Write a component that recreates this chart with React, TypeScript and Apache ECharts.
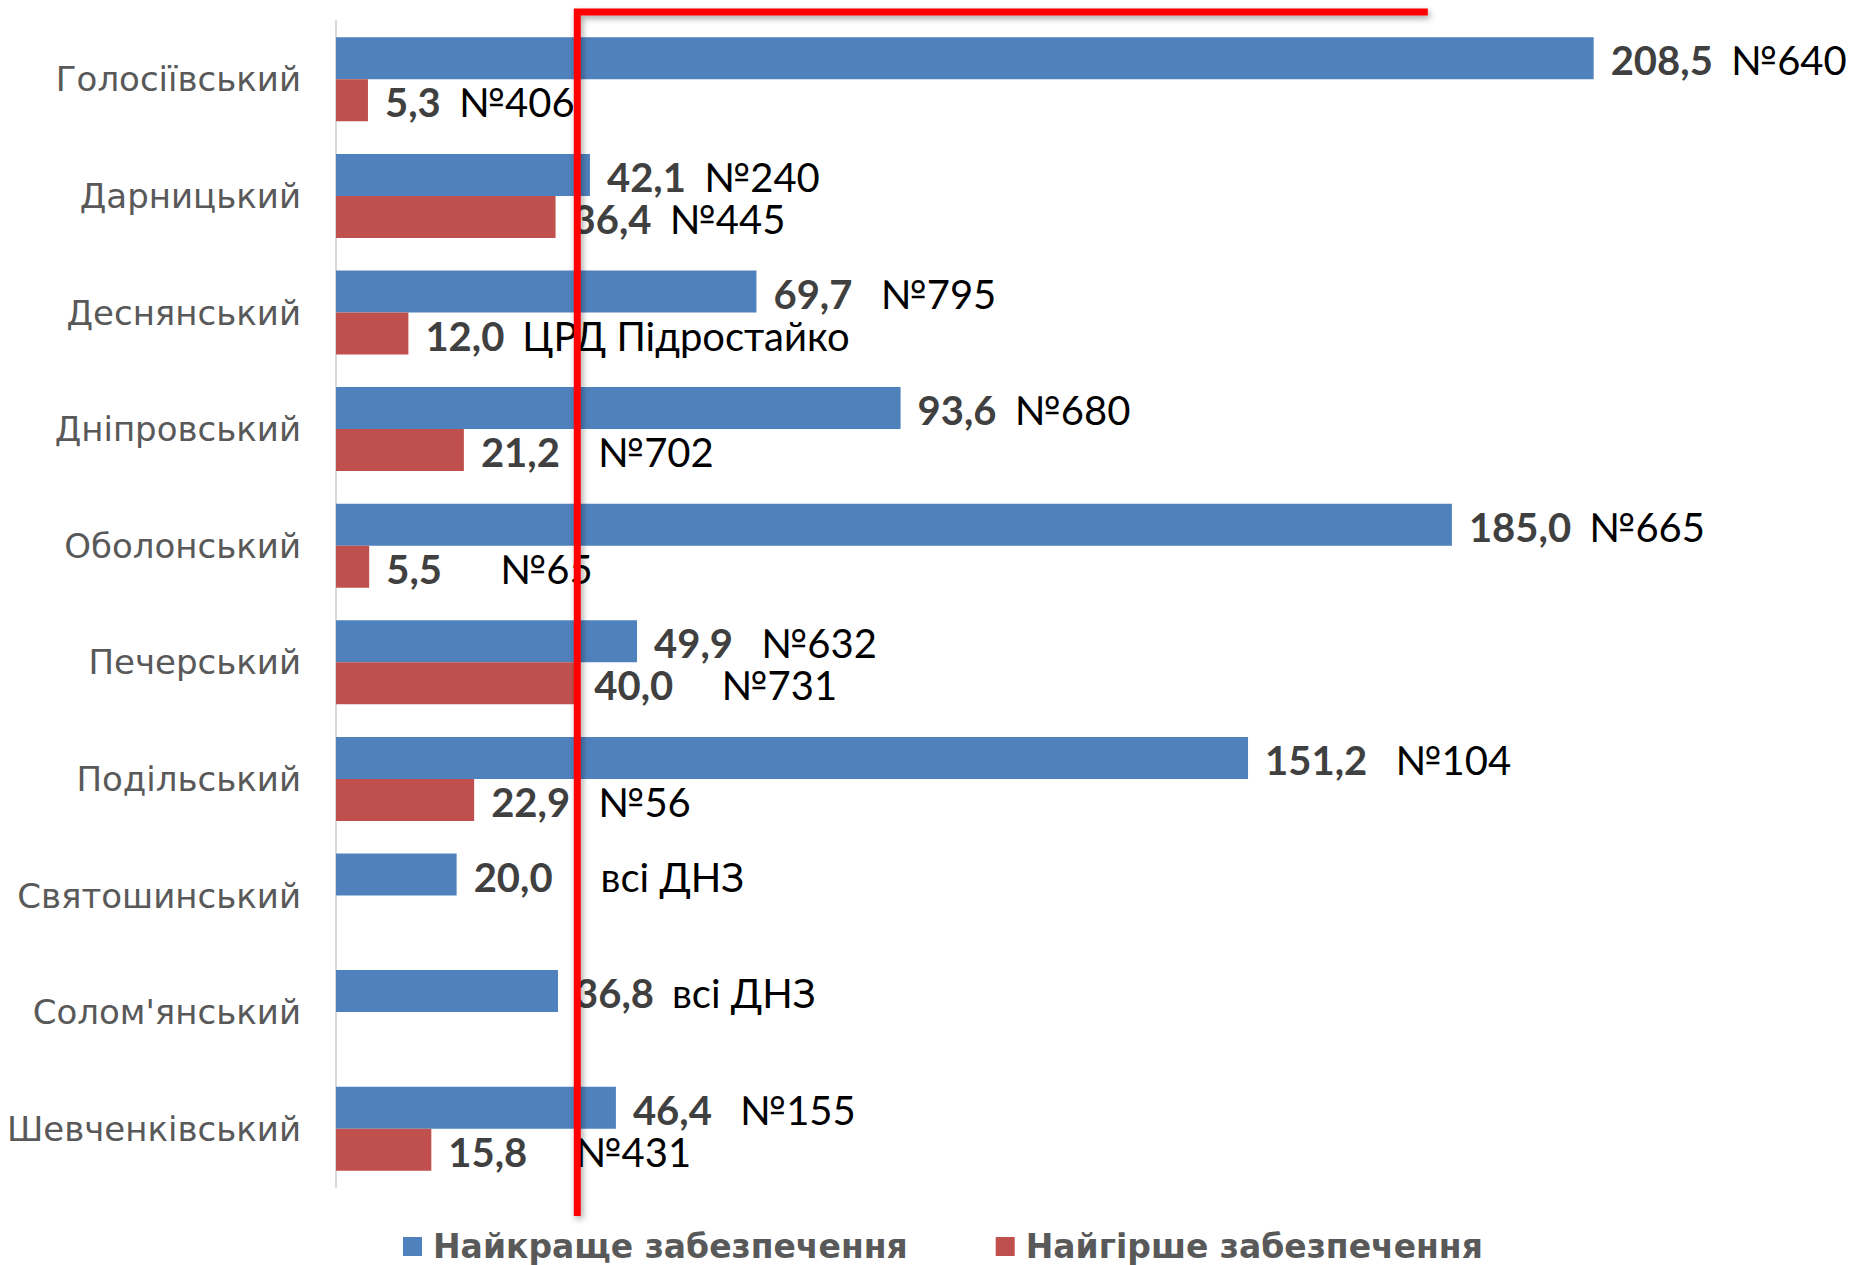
import React, { useEffect, useRef } from "react";
import * as echarts from "echarts";

const categories = [
  "Голосіївський",
  "Дарницький",
  "Деснянський",
  "Дніпровський",
  "Оболонський",
  "Печерський",
  "Подільський",
  "Святошинський",
  "Солом'янський",
  "Шевченківський",
];
const bestValues = [208.5, 42.1, 69.7, 93.6, 185.0, 49.9, 151.2, 20.0, 36.8, 46.4];
const bestNames = ["№640", "№240", " №795", "№680", "№665", " №632", " №104", "   всі ДНЗ", "всі ДНЗ", " №155"];
const worstValues = [5.3, 36.4, 12.0, 21.2, 5.5, 40.0, 22.9, null, null, 15.8];
const worstNames = ["№406", "№445", "ЦРД Підростайко", "  №702", "    №65", "   №731", " №56", "", "", "   №431"];
const seriesNames = ["Найкраще забезпечення", "Найгірше забезпечення"];
const normValue = 40;
const normLineEnd = 181;

const FONT = "Lato, 'DejaVu Sans', sans-serif";
const CAT_FONT = "'DejaVu Sans', sans-serif";

const fmt = (v: number) => v.toFixed(1).replace(".", ",");

const richStyles: any = {
  v: { fontFamily: FONT, fontSize: 40, lineHeight: 30, fontWeight: "bold", color: "#404040" },
};
for (let k = 0; k <= 4; k++) {
  richStyles["n" + k] = {
    fontFamily: FONT,
    fontSize: 40,
    lineHeight: 30,
    color: "#000000",
    padding: [0, 0, 0, 18 + k * 10],
  };
}

const makeFormatter = (names: string[]) => (p: any) => {
  if (p.value == null) return "";
  const raw = names[p.dataIndex] || "";
  const m = raw.match(/^ */);
  const k = m ? m[0].length : 0;
  const txt = raw.trim();
  return `{v|${fmt(p.value)}}{n${k}|${txt}}`;
};

export default function App() {
  const ref = useRef<HTMLDivElement>(null);
  useEffect(() => {
    if (!ref.current) return;
    const chart = echarts.init(ref.current, undefined, { renderer: "svg" });
    chart.setOption({
      animation: false,
      backgroundColor: "#ffffff",
      grid: {
        left: 336,
        top: 21,
        width: 1508,
        height: 1166,
        containLabel: false,
        outerBoundsMode: "none",
      },
      xAxis: {
        type: "value",
        min: 0,
        max: 250,
        show: false,
      },
      yAxis: {
        type: "category",
        data: categories,
        inverse: true,
        axisLine: { show: true, lineStyle: { color: "#d9d9d9", width: 2 } },
        axisTick: { show: false },
        axisLabel: {
          margin: 35,
          fontFamily: CAT_FONT,
          fontSize: 34,
          color: "#595959",
        },
      },
      legend: {
        data: seriesNames,
        top: 1225,
        left: 398,
        icon: "rect",
        itemWidth: 19,
        itemHeight: 19,
        itemGap: 88,
        textStyle: {
          fontFamily: CAT_FONT,
          fontSize: 33,
          lineHeight: 33,
          fontWeight: "bold",
          color: "#595959",
          padding: [0, 0, 0, 6],
        },
      },
      series: [
        {
          name: seriesNames[0],
          type: "bar",
          data: bestValues,
          barWidth: 42,
          barGap: "0%",
          itemStyle: { color: "#4f81bd" },
          label: {
            show: true,
            position: "right",
            distance: 17,
            offset: [0, 2],
            formatter: makeFormatter(bestNames),
            rich: richStyles,
          },
        },
        {
          name: seriesNames[1],
          type: "bar",
          data: worstValues,
          barWidth: 42,
          barGap: "0%",
          itemStyle: { color: "#c0504d" },
          label: {
            show: true,
            position: "right",
            distance: 17,
            offset: [0, 2],
            formatter: makeFormatter(worstNames),
            rich: richStyles,
          },
        },
      ],
    });
    const x0 = chart.convertToPixel({ xAxisIndex: 0 }, normValue) as number;
    const x1 = chart.convertToPixel({ xAxisIndex: 0 }, normLineEnd) as number;
    chart.setOption({
      graphic: [
        {
          type: "polyline",
          z: 100,
          shape: { points: [[x0, 1216], [x0, 12], [x1, 12]] },
          style: {
            stroke: "#ff0000",
            lineWidth: 7,
            fill: null,
            shadowBlur: 6,
            shadowColor: "rgba(0,0,0,0.35)",
            shadowOffsetX: 2,
            shadowOffsetY: 3,
          },
        },
      ],
    });
    return () => chart.dispose();
  }, []);
  return (
    <div
      ref={ref}
      style={{ position: "absolute", left: 0, top: 0, width: 1858, height: 1265 }}
    />
  );
}
